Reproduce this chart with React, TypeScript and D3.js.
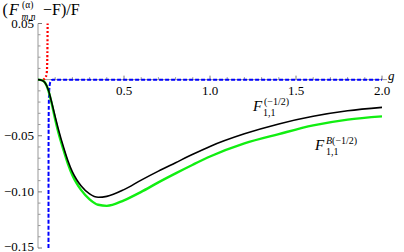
import React from "react";
import * as d3 from "d3";

// black curve: F_{1,1}^{(-1/2)}
const gBlack = [0, 0.02, 0.04, 0.06, 0.08, 0.1, 0.12, 0.15, 0.175, 0.2, 0.225, 0.25, 0.3, 0.35, 0.4, 0.5, 0.6, 0.7, 0.8, 0.9, 1.0, 1.2, 1.4, 1.6, 1.8, 2.0];
const vBlack = [0, -0.0005, -0.0025, -0.009, -0.0205, -0.033, -0.045, -0.061, -0.0728, -0.0822, -0.0892, -0.0945, -0.1018, -0.1048, -0.104, -0.098, -0.0895, -0.0815, -0.074, -0.0665, -0.0595, -0.0483, -0.0395, -0.0327, -0.0278, -0.0247];

// green curve: F_{1,1}^{B(-1/2)}
const gGreen = [0, 0.02, 0.04, 0.06, 0.08, 0.1, 0.12, 0.15, 0.175, 0.2, 0.225, 0.25, 0.3, 0.35, 0.4, 0.5, 0.6, 0.7, 0.8, 0.9, 1.0, 1.2, 1.4, 1.6, 1.8, 2.0];
const vGreen = [0, -0.0005, -0.0025, -0.0095, -0.0215, -0.0355, -0.048, -0.0635, -0.0755, -0.0852, -0.0925, -0.0982, -0.1066, -0.1115, -0.1125, -0.1075, -0.1, -0.0915, -0.0835, -0.0758, -0.0685, -0.0568, -0.0485, -0.0408, -0.0356, -0.0327];

// red dotted branch
const gRed = [0.03, 0.042, 0.05, 0.053, 0.055, 0.056];
const vRed = [0, 0.0015, 0.005, 0.012, 0.03, 0.05];

// blue dashed branch
const gBlue = [0.061, 0.0615, 0.063, 0.066, 0.072, 0.085, 2.0];
const vBlue = [-0.15, -0.05, -0.02, -0.008, -0.002, 0, 0];

const xMajor = [0.5, 1.0, 1.5, 2.0];
const yMajor = [0.05, -0.05, -0.1, -0.15];

const W = 404;
const H = 252;
const serif = "'Liberation Serif', 'Times New Roman', serif";

export default function App() {
  const x = d3.scaleLinear().domain([0, 2]).range([38, 382]);
  const y = d3.scaleLinear().domain([-0.15, 0.05]).range([248, 23.5]);

  const line = d3
    .line<[number, number]>()
    .x((d) => x(d[0]))
    .y((d) => y(d[1]))
    .curve(d3.curveMonotoneX);

  const pts = (gs: number[], vs: number[]) => gs.map((g, i) => [g, vs[i]] as [number, number]);

  const xMinor = d3.range(1, 21).map((i) => i / 10).filter((t) => Math.abs(t * 2 - Math.round(t * 2)) > 1e-6);
  const yMinor = d3.range(-15, 6).map((i) => i / 100).filter((t) => Math.abs(t * 20 - Math.round(t * 20)) > 1e-6);

  const fmt = (t: number) => (t < 0 ? "\u2212" : "") + d3.format(".2f")(Math.abs(t));

  return (
    <svg width={W} height={H} style={{ position: "absolute", left: 0, top: 0 }}>
      <rect width={W} height={H} fill="#fff" />
      {/* axes */}
      <line x1={x(0)} x2={x(0)} y1={y(0.05)} y2={y(-0.15)} stroke="#999" strokeWidth={1} />
      <line x1={x(0)} x2={387} y1={y(0)} y2={y(0)} stroke="#999" strokeWidth={1} />
      {xMajor.map((t) => (
        <line key={"xM" + t} x1={x(t)} x2={x(t)} y1={y(0)} y2={y(0) - 4} stroke="#777" />
      ))}
      {xMinor.map((t) => (
        <line key={"xm" + t} x1={x(t)} x2={x(t)} y1={y(0)} y2={y(0) - 2.5} stroke="#999" />
      ))}
      {[...yMajor, 0].map((t) => (
        <line key={"yM" + t} x1={x(0)} x2={x(0) + 4} y1={y(t)} y2={y(t)} stroke="#777" />
      ))}
      {yMinor.map((t) => (
        <line key={"ym" + t} x1={x(0)} x2={x(0) + 2.5} y1={y(t)} y2={y(t)} stroke="#999" />
      ))}
      {xMajor.map((t) => (
        <text key={"xl" + t} x={x(t)} y={y(0) + 15} fontFamily={serif} fontSize={13} textAnchor="middle">
          {t.toFixed(1)}
        </text>
      ))}
      {yMajor.map((t) => (
        <text key={"yl" + t} x={x(0) - 4} y={Math.min(y(t) + 4.5, 250.5)} fontFamily={serif} fontSize={13} textAnchor="end">
          {fmt(t)}
        </text>
      ))}
      <text x={388} y={y(0) + 0.5} fontFamily={serif} fontSize={13} fontStyle="italic">g</text>

      {/* curves */}
      <path d={line(pts(gRed, vRed)) || ""} fill="none" stroke="#ff0000" strokeWidth={2.2} strokeDasharray="2,2" />
      <path d={line(pts(gBlue, vBlue)) || ""} fill="none" stroke="#0000ff" strokeWidth={2} strokeDasharray="4,2" />
      <path d={line(pts(gGreen, vGreen)) || ""} fill="none" stroke="#11ee11" strokeWidth={2.4} />
      <path d={line(pts(gBlack, vBlack)) || ""} fill="none" stroke="#000" strokeWidth={1.6} />

      {/* title */}
      <g fontFamily={serif}>
        <text x={2.5} y={15} fontSize={16}>(</text>
        <text x={9} y={15} fontSize={16} fontStyle="italic">F</text>
        <text x={22} y={7.5} fontSize={9.5}>(α)</text>
        <text x={21.5} y={19.5} fontSize={9.5} fontStyle="italic">m,n</text>
        <text x={43} y={15} fontSize={16}>{"\u2212F)/F"}</text>
      </g>

      {/* curve labels */}
      <g fontFamily={serif}>
        <text x={253} y={111} fontSize={15} fontStyle="italic">F</text>
        <text x={264} y={105} fontSize={10}>{"(\u22121/2)"}</text>
        <text x={263} y={115.5} fontSize={10}>1,1</text>

        <text x={315} y={150} fontSize={15} fontStyle="italic">F</text>
        <text x={326} y={143.5} fontSize={10}>
          <tspan fontStyle="italic">B</tspan>
          {"(\u22121/2)"}
        </text>
        <text x={326} y={155} fontSize={10}>1,1</text>
      </g>
    </svg>
  );
}
